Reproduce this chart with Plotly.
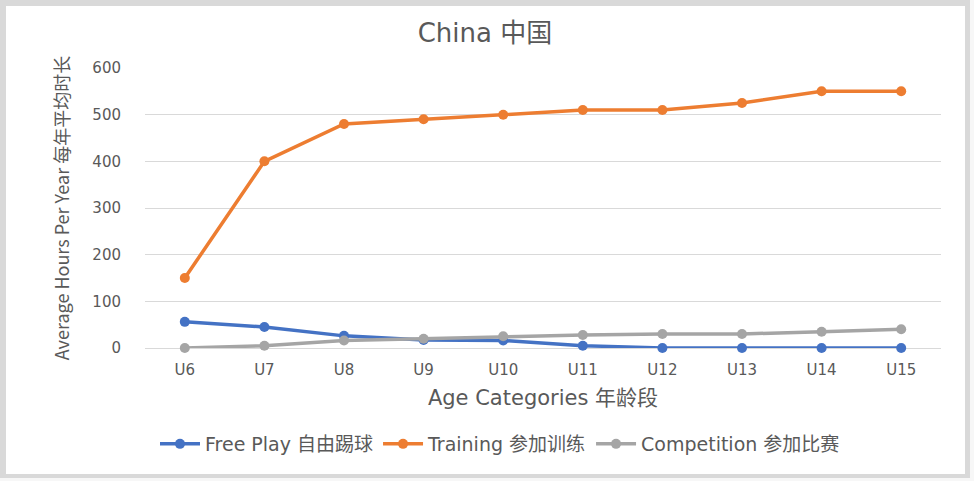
import plotly.graph_objects as go

categories = ["U6", "U7", "U8", "U9", "U10", "U11", "U12", "U13", "U14", "U15"]
free_play = [56, 45, 26, 17, 16, 5, 0, 0, 0, 0]
training = [150, 400, 480, 490, 500, 510, 510, 525, 550, 550]
competition = [0, 5, 16, 20, 25, 28, 30, 30, 35, 40]
y_ticks = [0, 100, 200, 300, 400, 500, 600]

W, H = 974, 481
ML, MR, MT, MB = 145, 33, 68, 133
PW, PH = W - ML - MR, H - MT - MB

def px(x):
    return (x - ML) / PW

def py(y):
    return (H - MB - y) / PH

CJK = "Noto Sans CJK SC"
MIX = "DejaVu Sans, Noto Sans CJK SC"
TXT = "#595959"

fig = go.Figure()
series = [
    ("Free Play 自由踢球", free_play, "#4472C4"),
    ("Training 参加训练", training, "#ED7D31"),
    ("Competition 参加比赛", competition, "#A5A5A5"),
]
for name, vals, col in series:
    fig.add_trace(go.Scatter(
        x=categories, y=vals, name=name, mode="lines+markers",
        line=dict(color=col, width=3.5),
        marker=dict(color=col, size=10),
        cliponaxis=False,
    ))

shapes = [
    dict(type="rect", xref="paper", yref="paper", layer="below",
         x0=px(0), x1=px(970), y0=py(0), y1=py(478),
         fillcolor="#D9D9D9", line=dict(width=0)),
    dict(type="rect", xref="paper", yref="paper", layer="below",
         x0=px(6), x1=px(965), y0=py(6), y1=py(474),
         fillcolor="#FFFFFF", line=dict(width=0)),
]

fig.update_layout(
    width=W, height=H,
    margin=dict(l=ML, r=MR, t=MT, b=MB),
    paper_bgcolor="#F7F7F7",
    plot_bgcolor="rgba(0,0,0,0)",
    shapes=shapes,
    title=dict(text="China 中国", x=485 / W, xref="container", xanchor="center",
               y=1 - 33 / H, yref="container", yanchor="middle",
               font=dict(family=MIX, size=26, color=TXT)),
    showlegend=True,
    legend=dict(orientation="h", x=px(500), xanchor="center",
                y=py(444), yanchor="middle",
                font=dict(family=MIX, size=19, color=TXT),
                bgcolor="rgba(0,0,0,0)", itemwidth=40,
                tracegroupgap=0),
    xaxis=dict(
        range=[-0.5, 9.5], showgrid=False, zeroline=False, showline=False,
        tickfont=dict(family="DejaVu Sans", size=15, color=TXT),
        ticks="outside", ticklen=8, tickcolor="rgba(0,0,0,0)",
        title=dict(text="Age Categories 年龄段",
                   font=dict(family=MIX, size=21, color=TXT), standoff=12),
        fixedrange=True,
    ),
    yaxis=dict(
        range=[0, 600], tickvals=y_ticks, showgrid=True, gridcolor="#D9D9D9",
        gridwidth=1, zeroline=True, zerolinecolor="#D9D9D9", zerolinewidth=1,
        showline=False,
        tickfont=dict(family="DejaVu Sans", size=15, color=TXT),
        ticks="outside", ticklen=20, tickcolor="rgba(0,0,0,0)",
        title=dict(text="Average Hours Per Year 每年平均时长",
                   font=dict(family=CJK, size=18, color=TXT), standoff=18),
        fixedrange=True,
    ),
)

fig.write_html("out.html")
